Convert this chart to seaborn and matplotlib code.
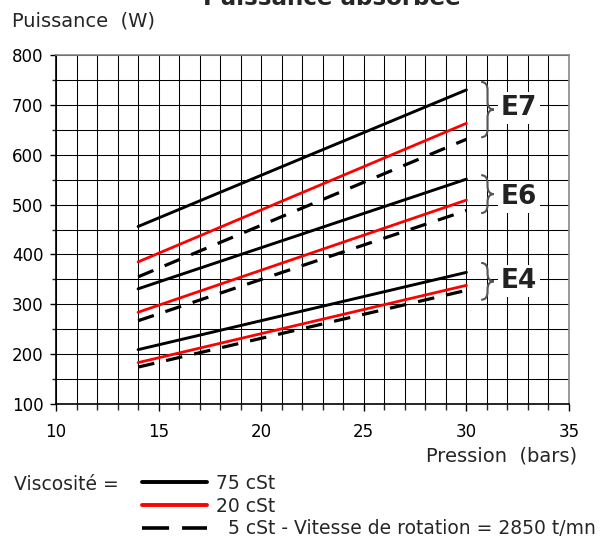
"""Puissance absorbée en fonction de la pression, pompes E4 / E6 / E7."""

import matplotlib

matplotlib.use("Agg")

import matplotlib.pyplot as plt
import pandas as pd
import seaborn as sns
from matplotlib.lines import Line2D
from matplotlib.path import Path
from matplotlib.patches import PathPatch


# pressure range of every curve (bars)
pressions = [14, 30]

models = ["E4", "E6", "E7"]
viscosites = ["75 cSt", "20 cSt", "5 cSt"]

# absorbed power (W) at 14 and 30 bars
e4_75 = [209, 364]
e4_20 = [183, 338]
e4_5 = [174, 328]
e6_75 = [331, 551]
e6_20 = [284, 509]
e6_5 = [267, 488]
e7_75 = [456, 730]
e7_20 = [385, 663]
e7_5 = [355, 631]

series = {
    ("E4", "75 cSt"): e4_75, ("E4", "20 cSt"): e4_20, ("E4", "5 cSt"): e4_5,
    ("E6", "75 cSt"): e6_75, ("E6", "20 cSt"): e6_20, ("E6", "5 cSt"): e6_5,
    ("E7", "75 cSt"): e7_75, ("E7", "20 cSt"): e7_20, ("E7", "5 cSt"): e7_5,
}

x_ticks = [10, 15, 20, 25, 30, 35]
y_ticks = [100, 200, 300, 400, 500, 600, 700, 800]


def build_frame() -> pd.DataFrame:
    rows = []
    for (model, visc), values in series.items():
        for p, w in zip(pressions, values):
            rows.append({"model": model, "viscosite": visc, "pression": p, "puissance": w})
    return pd.DataFrame(rows)


def draw_brace(ax, x0, x1, y_bot, y_top, delta=15, **kw):
    xm = (x0 + x1) / 2
    ym = (y_bot + y_top) / 2
    verts = [
        (x0, y_top), (xm, y_top), (xm, y_top - delta),
        (xm, ym + delta),
        (xm, ym), (x1, ym),
        (xm, ym), (xm, ym - delta),
        (xm, y_bot + delta),
        (xm, y_bot), (x0, y_bot),
    ]
    codes = [
        Path.MOVETO, Path.CURVE3, Path.CURVE3,
        Path.LINETO,
        Path.CURVE3, Path.CURVE3,
        Path.CURVE3, Path.CURVE3,
        Path.LINETO,
        Path.CURVE3, Path.CURVE3,
    ]
    ax.add_patch(PathPatch(Path(verts, codes), fill=False, clip_on=False, zorder=4, **kw))


def main() -> None:
    sns.set_style("white")
    plt.rcParams["font.family"] = ["DejaVu Sans"]

    df = build_frame()
    palette = {"75 cSt": "black", "20 cSt": "#ff0000", "5 cSt": "black"}
    dashes = {"75 cSt": "", "20 cSt": "", "5 cSt": (5.2, 3.8)}
    widths = {"75 cSt": 2.1, "20 cSt": 2.0, "5 cSt": 2.3}

    fig = plt.figure(figsize=(6.12, 5.42), dpi=100)
    ax = fig.add_axes([56 / 612, 1 - 404 / 542, 513 / 612, 349 / 542])

    for visc in viscosites:
        sub = df[df["viscosite"] == visc]
        sns.lineplot(
            data=sub, x="pression", y="puissance", units="model", estimator=None,
            color=palette[visc], dashes=False, lw=widths[visc], legend=False, ax=ax, zorder=3,
        )
        if dashes[visc]:
            for line in ax.get_lines()[-len(models):]:
                line.set_dashes(dashes[visc])

    ax.set_xlim(10, 35)
    ax.set_ylim(100, 800)
    ax.set_xticks(x_ticks)
    ax.set_xticks(range(10, 36), minor=True)
    ax.set_yticks(y_ticks)
    ax.set_yticks(range(150, 800, 100), minor=True)
    ax.grid(which="both", color="black", lw=0.75)
    ax.set_axisbelow(True)
    ax.set_xlabel("")
    ax.set_ylabel("")

    ax.tick_params(axis="x", which="major", direction="out", length=5, width=1, pad=9,
                   labelsize=12, colors="black", bottom=True)
    ax.tick_params(axis="x", which="minor", direction="out", length=4, width=1, bottom=True)
    ax.tick_params(axis="y", which="major", direction="out", length=4, width=1, pad=5,
                   labelsize=12, colors="black", left=True)
    ax.tick_params(axis="y", which="minor", direction="out", length=3, width=1, left=True)
    for side in ["left", "bottom"]:
        ax.spines[side].set_color("black")
        ax.spines[side].set_linewidth(1.2)
    for side in ["top", "right"]:
        ax.spines[side].set_color("#888888")
        ax.spines[side].set_linewidth(1.2)

    # braces and model labels on the right
    braces = {"E7": (635, 746, 694), "E6": (483, 559, 515), "E4": (309, 383, 347)}
    for model, (y_bot, y_top, y_lab) in braces.items():
        draw_brace(ax, 30.72, 31.34, y_bot, y_top, delta=16, color="#555555", lw=1.5)
        ax.text(32.56, y_lab, model, ha="center", va="center", fontsize=19,
                fontweight="bold", color="#222222", zorder=5,
                bbox=dict(facecolor="white", edgecolor="none", pad=2))

    fig.text(332 / 612, 1 - 5 / 542, "Puissance absorbée", ha="center", va="baseline",
             fontsize=16.6, fontweight="bold")
    fig.text(12 / 612, 1 - 21 / 542, "Puissance  (W)", ha="left", va="center", fontsize=14)
    fig.text(577 / 612, 1 - 456 / 542, "Pression  (bars)", ha="right", va="center", fontsize=14)

    # legend
    fig.text(14 / 612, 1 - 485 / 542, "Viscosité =", ha="left", va="center", fontsize=13.5)
    handles = [
        Line2D([], [], color="black", lw=2.8),
        Line2D([], [], color="#ff0000", lw=2.8),
        Line2D([], [], color="black", lw=2.6, dashes=(7.5, 3.6)),
    ]
    labels = ["75 cSt", "20 cSt", "  5 cSt - Vitesse de rotation = 2850 t/mn"]
    fig.legend(
        handles, labels, loc="upper left", bbox_to_anchor=(142 / 612, 1 - 474 / 542),
        frameon=False, fontsize=13.5, handlelength=3.45, handletextpad=0.5,
        labelspacing=0.2, borderpad=0, borderaxespad=0,
    )

    fig.savefig("out.png", dpi=100)
    plt.close(fig)


if __name__ == "__main__":
    main()
